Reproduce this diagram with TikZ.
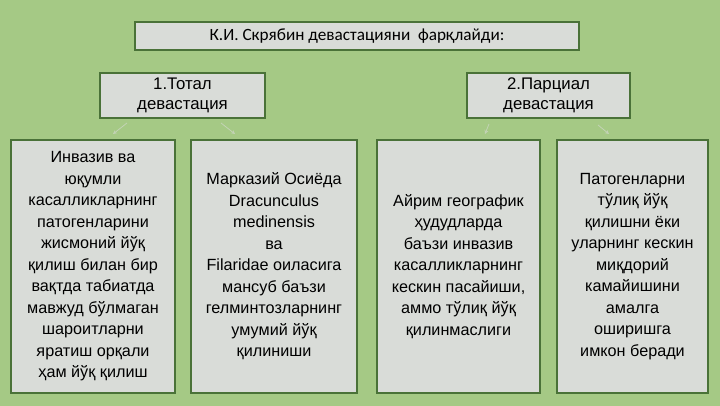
\documentclass[tikz,border=0pt]{standalone}
\usepackage{fontspec}
\setmainfont{Liberation Sans}
\newfontfamily\titlefont{Carlito}
\usetikzlibrary{arrows.meta}
\definecolor{bgGreen}{HTML}{A5C985}
\definecolor{boxFill}{HTML}{D9DCD8}
\definecolor{boxLine}{HTML}{4A7238}
\definecolor{connCol}{HTML}{C3D3B5}
\tikzset{
  card/.style={draw=boxLine, line width=1.5pt, fill=boxFill, inner sep=0pt, align=center, text=black},
  topcard/.style={card, font=\titlefont\fontsize{17.2}{20}\selectfont},
  midcard/.style={card, font=\fontsize{16.8}{20.5}\selectfont},
  lowcard/.style={card, font=\fontsize{16.2}{21.5}\selectfont, minimum height=253pt},
  conn/.style={draw=connCol, line width=0.8pt, -{Stealth[length=4pt,width=4pt]}}
}
\begin{document}
\begin{tikzpicture}[x=1pt,y=-1pt]
\useasboundingbox (0,0) rectangle (720,406);
\fill[bgGreen] (0,0) rectangle (720,406);

\node[topcard, minimum width=444pt, minimum height=28pt] (title) at (357,36)
  {К.И. Скрябин девастацияни\ \ фарқлайди:};

\node[midcard, minimum width=165pt, minimum height=45pt] (tot) at (182.5,95.5)
  {1.Тотал\\девастация};
\node[midcard, minimum width=163pt, minimum height=45pt] (par) at (548.5,95.5)
  {2.Парциал\\девастация};

\node[lowcard, minimum width=164pt] (ca) at (93,266.5)
  {Инвазив ва\\юқумли\\касалликларнинг\\патогенларини\\жисмоний йўқ\\қилиш билан бир\\вақтда табиатда\\мавжуд бўлмаган\\шароитларни\\яратиш орқали\\ҳам йўқ қилиш};
\node[lowcard, minimum width=166pt] (cb) at (274,266.5)
  {Марказий Осиёда\\Dracunculus\\medinensis\\ва\\Filaridae оиласига\\мансуб баъзи\\гелминтозларнинг\\умумий йўқ\\қилиниши};
\node[lowcard, minimum width=163pt] (cc) at (458.5,266.5)
  {Айрим географик\\ҳудудларда\\баъзи инвазив\\касалликларнинг\\кескин пасайиши,\\аммо тўлиқ йўқ\\қилинмаслиги};
\node[lowcard, minimum width=151pt] (cd) at (632.5,266.5)
  {Патогенларни\\тўлиқ йўқ\\қилишни ёки\\уларнинг кескин\\миқдорий\\камайишини\\амалга\\оширишга\\имкон беради};

% faint connectors
\coordinate (t1a) at (127,123); \coordinate (t1b) at (113,134);
\coordinate (t2a) at (221,123); \coordinate (t2b) at (235,134);
\coordinate (p1a) at (489,124); \coordinate (p1b) at (485,134);
\coordinate (p2a) at (598,125); \coordinate (p2b) at (609,134);
\draw[conn] (t1a) -- (t1b);
\draw[conn] (t2a) -- (t2b);
\draw[conn] (p1a) -- (p1b);
\draw[conn] (p2a) -- (p2b);
\end{tikzpicture}
\end{document}
